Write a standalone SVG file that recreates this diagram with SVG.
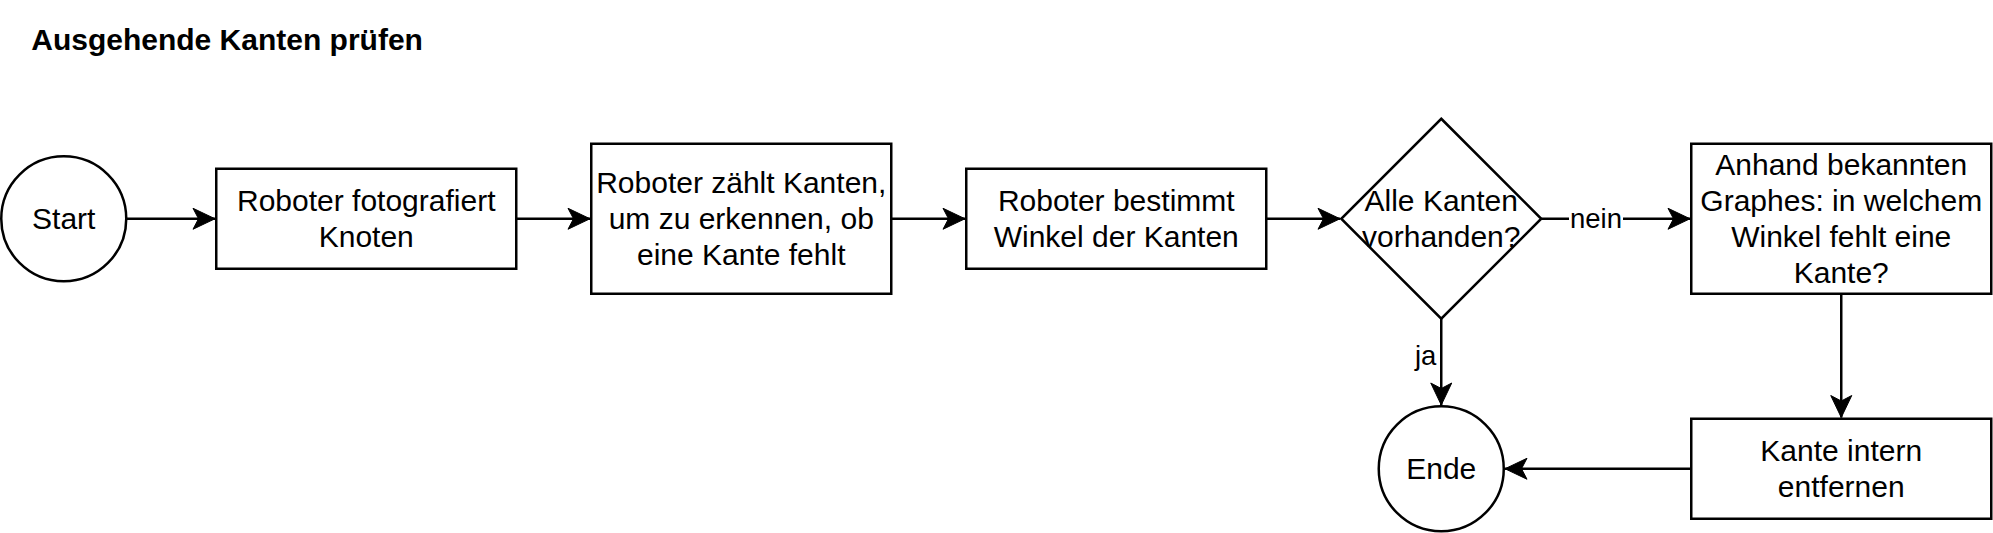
<svg xmlns="http://www.w3.org/2000/svg" width="1993" height="533" viewBox="0 0 1993 533">
<style>
.shape{fill:#fff;stroke:#000;stroke-width:2.5}
.t{font-family:"Liberation Sans",Arial,sans-serif;font-size:30px;fill:#000;text-anchor:middle}
.title{font-family:"Liberation Sans",Arial,sans-serif;font-size:30px;font-weight:bold;fill:#000}
.lbl{font-family:"Liberation Sans",Arial,sans-serif;font-size:27.5px;fill:#000;text-anchor:middle}
.edge{fill:none;stroke:#000;stroke-width:2.5;marker-end:url(#arrow)}
</style>
<defs>
<marker id="arrow" markerUnits="userSpaceOnUse" viewBox="-23 -12 24 24" refX="0" refY="0" markerWidth="24" markerHeight="24" orient="auto">
<path d="M0,0 L-22,-10.5 L-16.5,0 L-22,10.5 Z" fill="#000" stroke="#000" stroke-width="1"/>
</marker>
</defs>
<rect width="1993" height="533" fill="#fff"/>
<text id="title" class="title" x="31.25" y="49.5">Ausgehende Kanten prüfen</text>
<g id="connectors">
<path class="edge" d="M126.25,218.75 H215"/>
<path class="edge" d="M516.25,218.75 H590"/>
<path class="edge" d="M891.25,218.75 H965"/>
<path class="edge" d="M1266.25,218.75 H1340"/>
<path class="edge" d="M1541.25,218.75 H1690"/>
<path class="edge" d="M1441.25,318.75 V405"/>
<path class="edge" d="M1841.25,293.75 V417.5"/>
<path class="edge" d="M1691.25,468.75 H1505"/>
<rect x="1569" y="204" width="54" height="30" fill="#fff"/>
<text class="lbl" x="1596" y="228.3">nein</text>
<text class="lbl" x="1425.7" y="365">ja</text>
</g>
<g id="start">
<circle class="shape" cx="63.75" cy="218.75" r="62.5"/>
<text class="t" x="63.75" y="229.1">Start</text>
</g>
<g id="foto">
<rect class="shape" x="216.25" y="168.75" width="300" height="100"/>
<text class="t" x="366.25" y="211.1">Roboter fotografiert</text>
<text class="t" x="366.25" y="247.1">Knoten</text>
</g>
<g id="zaehlt">
<rect class="shape" x="591.25" y="143.75" width="300" height="150"/>
<text class="t" x="741.25" y="193.1">Roboter zählt Kanten,</text>
<text class="t" x="741.25" y="229.1">um zu erkennen, ob</text>
<text class="t" x="741.25" y="265.1">eine Kante fehlt</text>
</g>
<g id="winkel">
<rect class="shape" x="966.25" y="168.75" width="300" height="100"/>
<text class="t" x="1116.25" y="211.1">Roboter bestimmt</text>
<text class="t" x="1116.25" y="247.1">Winkel der Kanten</text>
</g>
<g id="entscheidung">
<path class="shape" d="M1441.25,118.75 L1541.25,218.75 L1441.25,318.75 L1341.25,218.75 Z"/>
<text class="t" x="1441.25" y="211.1">Alle Kanten</text>
<text class="t" x="1441.25" y="247.1">vorhanden?</text>
</g>
<g id="anhand">
<rect class="shape" x="1691.25" y="143.75" width="300" height="150"/>
<text class="t" x="1841.25" y="175.1">Anhand bekannten</text>
<text class="t" x="1841.25" y="211.1">Graphes: in welchem</text>
<text class="t" x="1841.25" y="247.1">Winkel fehlt eine</text>
<text class="t" x="1841.25" y="283.1">Kante?</text>
</g>
<g id="entfernen">
<rect class="shape" x="1691.25" y="418.75" width="300" height="100"/>
<text class="t" x="1841.25" y="461.1">Kante intern</text>
<text class="t" x="1841.25" y="497.1">entfernen</text>
</g>
<g id="ende">
<circle class="shape" cx="1441.25" cy="468.75" r="62.5"/>
<text class="t" x="1441.25" y="479.1">Ende</text>
</g>
</svg>
